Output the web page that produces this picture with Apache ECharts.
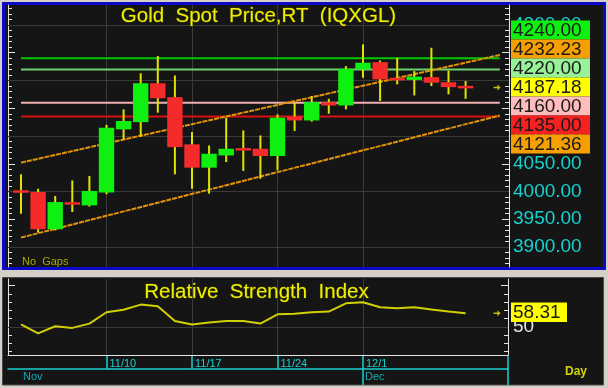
<!DOCTYPE html>
<html><head><meta charset="utf-8">
<script src="https://cdn.jsdelivr.net/npm/echarts@6/dist/echarts.min.js"></script>
<style>html,body{margin:0;padding:0;background:#d4d0c8}#c{width:608px;height:388px}</style>
</head><body><div id="c"></div>
<script>
// ---------- data ----------
const days = ['11/3','11/4','11/5','11/6','11/7','11/10','11/11','11/12','11/13','11/14','11/17','11/18','11/19','11/20','11/21','11/24','11/25','11/26','11/27','11/28','12/1','12/2','12/3','12/4','12/5','12/8','12/9'];
const openP  = [4002,3999,3932,3980,3975,3998,4112,4125,4195,4170,4085,4043,4065,4077,4077,4064,4135,4128,4161,4155,4220,4233,4204,4201,4206,4197,4189];
const closeP = [3998,3932,3981,3977,4001,4115,4127,4195,4168,4080,4043,4068,4077,4075,4064,4133,4128,4161,4155,4221,4232,4202,4201,4207,4196,4188,4187.18];
const lowP   = [3960,3926,3930,3963,3973,3995,4094,4099,4142,4031,4005,3996,4053,4037,4023,4038,4109,4126,4140,4148,4205,4163,4193,4173,4190,4175,4167];
const highP  = [4031,4005,3992,4020,4028,4120,4148,4213,4244,4209,4107,4083,4133,4110,4101,4139,4160,4172,4167,4226,4265,4236,4241,4217,4259,4218,4199];
const rsi    = [51.6,46.1,50.4,49.4,52.0,58.9,60.4,63.5,62.5,53.6,51.4,52.6,53.6,53.6,52.0,57.6,58.0,58.9,59.3,64.3,64.9,61.9,61.3,61.9,60.5,59.3,58.31];

const levelValues = [4240, 4220, 4160, 4135];
const upperTrend = [[0, 4052], [28, 4246]];
const lowerTrend = [[0, 3917], [28, 4137]];
const lastPrice = 4187.18;
const lastRsi = 58.31;
const tagValues = [4240.00, 4232.23, 4220.00, 4187.18, 4160.00, 4135.00, 4121.36];
const priceLabels = [3900, 3950, 4000, 4050, 4100, 4150, 4200, 4250, 4300];
const priceGrid = [3900, 4000, 4100, 4200, 4300];
const rsiLabels = [50];
const weekIdx = [5, 10, 15, 20];
const weekLabels = ['11/10', '11/17', '11/24', '12/1'];
const monthIdx = [0, 20];
const monthLabels = ['Nov', 'Dec'];

// ---------- styles ----------
const FONT = 'Arial, "Liberation Sans", sans-serif';
const levelColors = ['#00c800', '#70d070', '#f0b0b0', '#d81010'];
const tagColors = ['#10f010', '#f5a000', '#98f098', '#ffff00', '#ffbcbc', '#f52020', '#f5a000'];
const PANEL = '#151515', GRIDC = '#3a3a3a', WHITE = '#e4e4e4', CYAN = '#18d0d0';
const PMIN = 3864, PMAX = 4336, XMIN = -0.76, XMAX_MAIN = 28.538, XMAX_LOW = 28.48;
const RMIN = 33, RMAX = 79;

const minorPrice = []; for (let v = 3870; v <= 4330; v += 10) minorPrice.push(v);
const minorRsi = []; for (let v = 35; v <= 75; v += 5) minorRsi.push(v);
const majorRsi = [50, 75];

function yAx(gridIndex, position, min, max, extra) {
  return Object.assign({
    type: 'value', gridIndex, position, min, max,
    splitLine: { show: false },
    axisLine: { show: false, onZero: false },
    axisTick: { show: false },
    axisLabel: { show: false }
  }, extra);
}
const ticks = (vals, len) => ({ show: true, inside: true, length: len, customValues: vals, lineStyle: { color: WHITE, width: 1 } });
const wline = { show: true, onZero: false, lineStyle: { color: WHITE, width: 1 } };

const candleData = days.map((d, i) => [i, openP[i], closeP[i], lowP[i], highP[i]]);

const chart = echarts.init(document.getElementById('c'), null, { renderer: 'canvas', width: 608, height: 388 });

const tagGraphics = [];
tagValues.forEach((v, k) => {
  const top = 20.5 + 19 * k;
  tagGraphics.push({ type: 'rect', z: 100, shape: { x: 511, y: top, width: 79, height: 19 }, style: { fill: tagColors[k] } });
  tagGraphics.push({ type: 'text', z: 101, x: 513, y: top + 10, style: { text: v.toFixed(2), font: '19px ' + FONT, fill: '#1a1a1a', textVerticalAlign: 'middle' } });
});

const option = {
  animation: false,
  backgroundColor: '#d4d0c8',
  grid: [
    { left: 8, right: 99, top: 5, height: 262 },
    { left: 8, right: 100, top: 279, height: 76 },
    { left: 8, right: 100, top: 356, height: 13 }
  ],
  xAxis: [
    { type: 'value', gridIndex: 0, min: XMIN, max: XMAX_MAIN, show: false },
    { type: 'value', gridIndex: 1, min: XMIN, max: XMAX_LOW, splitLine: { show: false }, axisLine: wline, axisTick: { show: false }, axisLabel: { show: false } },
    { type: 'value', gridIndex: 2, position: 'bottom', min: XMIN, max: XMAX_LOW, splitLine: { show: false },
      axisLine: { show: true, onZero: false, lineStyle: { color: CYAN, width: 1.5 } },
      axisTick: { show: true, inside: true, length: 13, customValues: weekIdx, lineStyle: { color: CYAN, width: 1.5 } },
      axisLabel: { show: true, inside: true, customValues: weekIdx, margin: 5, verticalAlign: 'middle', align: 'left', padding: [0, 0, 0, 3],
        color: CYAN, fontSize: 11, fontFamily: FONT, formatter: v => weekLabels[weekIdx.indexOf(Math.round(v))] || '' } },
    { type: 'value', gridIndex: 2, position: 'bottom', offset: 0, min: XMIN, max: XMAX_LOW, splitLine: { show: false },
      axisLine: { show: false, onZero: false },
      axisTick: { show: true, inside: false, length: 16, customValues: [monthIdx[1]], lineStyle: { color: CYAN, width: 1.5 } },
      axisLabel: { show: true, customValues: monthIdx, margin: 8, verticalAlign: 'middle', align: 'left', padding: [0, 0, 0, 2],
        color: '#14aab4', fontSize: 11, fontFamily: FONT, formatter: v => monthLabels[monthIdx.indexOf(Math.round(v))] || '' } }
  ],
  yAxis: [
    yAx(0, 'left', PMIN, PMAX, { axisLine: wline, axisTick: ticks(minorPrice, 4) }),
    yAx(0, 'left', PMIN, PMAX, { axisTick: ticks(priceLabels, 7) }),
    yAx(0, 'right', PMIN, PMAX, { axisLine: wline, axisTick: ticks(minorPrice, 4),
      axisLabel: { show: true, customValues: priceLabels, margin: 4, color: CYAN, fontSize: 19, fontFamily: FONT, formatter: v => v.toFixed(2) } }),
    yAx(0, 'right', PMIN, PMAX, { axisTick: ticks(priceLabels, 7) }),
    yAx(1, 'left', RMIN, RMAX, { axisLine: wline, axisTick: ticks(minorRsi, 4) }),
    yAx(1, 'left', RMIN, RMAX, { axisTick: ticks(majorRsi, 7) }),
    yAx(1, 'right', RMIN, RMAX, { axisLine: wline, axisTick: ticks(minorRsi, 4),
      axisLabel: { show: true, customValues: rsiLabels, margin: 5, color: WHITE, fontSize: 19, fontFamily: FONT, formatter: v => String(Math.round(v)) } }),
    yAx(1, 'right', RMIN, RMAX, { axisTick: ticks(majorRsi, 7) }),
    yAx(2, 'right', 0, 1, { axisLine: { show: true, onZero: false, lineStyle: { color: CYAN, width: 1.5 } } })
  ],
  series: [
    { type: 'line', xAxisIndex: 0, yAxisIndex: 0, data: [], z: 1, silent: true,
      markLine: { z: 1, silent: true, symbol: 'none', label: { show: false }, lineStyle: { color: GRIDC, width: 1, type: 'solid' },
        data: priceGrid.map(v => ({ yAxis: v })).concat(weekIdx.map(v => ({ xAxis: v }))) } },
    { type: 'line', xAxisIndex: 1, yAxisIndex: 4, data: [], z: 1, silent: true,
      markLine: { z: 1, silent: true, symbol: 'none', label: { show: false }, lineStyle: { color: GRIDC, width: 1, type: 'solid' },
        data: [{ yAxis: 50 }].concat(weekIdx.map(v => ({ xAxis: v }))) } },
    ...levelValues.map((v, k) => ({ type: 'line', xAxisIndex: 0, yAxisIndex: 0, z: 2, symbol: 'none', silent: true,
      data: [[0, v], [28, v]], lineStyle: { color: levelColors[k], width: 2 } })),
    { type: 'line', xAxisIndex: 0, yAxisIndex: 0, z: 3, symbol: 'none', silent: true, data: upperTrend, lineStyle: { color: '#e3930a', width: 2, type: [5, 1] } },
    { type: 'line', xAxisIndex: 0, yAxisIndex: 0, z: 3, symbol: 'none', silent: true, data: lowerTrend, lineStyle: { color: '#e3930a', width: 2, type: [5, 1] } },
    { type: 'custom', xAxisIndex: 0, yAxisIndex: 0, z: 4, clip: true, data: candleData,
      encode: { x: 0, y: [1, 2, 3, 4] },
      renderItem: function (params, api) {
        const x = api.value(0), o = api.value(1), c = api.value(2), l = api.value(3), h = api.value(4);
        const top = api.coord([x, Math.max(o, c)]);
        const bot = api.coord([x, Math.min(o, c)]);
        const hi = api.coord([x, h]);
        const lo = api.coord([x, l]);
        const w = api.size([1, 0])[0] * 0.9;
        let y0 = top[1], hh = bot[1] - top[1];
        if (hh < 2.5) { y0 = (top[1] + bot[1]) / 2 - 1.25; hh = 2.5; }
        return { type: 'group', children: [
          { type: 'line', shape: { x1: hi[0], y1: hi[1], x2: lo[0], y2: lo[1] }, style: { stroke: '#e2e200', lineWidth: 2 } },
          { type: 'rect', shape: { x: top[0] - w / 2, y: y0, width: w, height: hh }, style: { fill: c >= o ? '#10f010' : '#f52a2a' } }
        ] };
      } },
    { type: 'scatter', xAxisIndex: 0, yAxisIndex: 0, z: 5, silent: true, data: [[27.84, lastPrice]],
      symbol: 'path://M0,3 L5,3 L5,0 L9,4 L5,8 L5,5 L0,5 Z', symbolSize: [7, 6], itemStyle: { color: '#e8e800' } },
    { type: 'line', xAxisIndex: 1, yAxisIndex: 4, z: 3, symbol: 'none', silent: true,
      data: rsi.map((v, i) => [i, v]), lineStyle: { color: '#d0d000', width: 2 } },
    { type: 'scatter', xAxisIndex: 1, yAxisIndex: 4, z: 5, silent: true, data: [[27.84, lastRsi]],
      symbol: 'path://M0,3 L5,3 L5,0 L9,4 L5,8 L5,5 L0,5 Z', symbolSize: [7, 6], itemStyle: { color: '#e8e800' } }
  ],
  graphic: [
    { type: 'rect', z: -10, shape: { x: 3.5, y: 3.5, width: 601, height: 265 }, style: { fill: PANEL, stroke: '#0a0ac8', lineWidth: 3 } },
    { type: 'rect', z: -10, shape: { x: 2.5, y: 277.5, width: 601, height: 107.5 }, style: { fill: PANEL, stroke: '#4a4a4a', lineWidth: 1 } },
    { type: 'line', z: 10, shape: { x1: 508, y1: 369, x2: 508, y2: 385 }, style: { stroke: CYAN, lineWidth: 1.5 } },
    { type: 'text', z: 50, x: 258.5, y: 16, style: { text: 'Gold  Spot  Price,RT  (IQXGL)', font: '20.5px ' + FONT, fill: '#eeee00',
      textAlign: 'center', textVerticalAlign: 'middle', stroke: 'rgba(70,70,0,0.9)', lineWidth: 1 } },
    { type: 'text', z: 50, x: 256.5, y: 292.5, style: { text: 'Relative  Strength  Index', font: '20.5px ' + FONT, fill: '#eeee00',
      textAlign: 'center', textVerticalAlign: 'middle', stroke: 'rgba(70,70,0,0.9)', lineWidth: 1 } },
    { type: 'text', z: 50, x: 22, y: 262, style: { text: 'No  Gaps', font: '11px ' + FONT, fill: '#a8a800', textVerticalAlign: 'middle' } },
    { type: 'text', z: 50, x: 565, y: 372, style: { text: 'Day', font: 'bold 12px ' + FONT, fill: '#d4d400', textVerticalAlign: 'middle' } },
    ...tagGraphics,
    { type: 'rect', z: 100, shape: { x: 511, y: 302.5, width: 56, height: 19.5 }, style: { fill: '#ffff00' } },
    { type: 'text', z: 101, x: 513, y: 313, style: { text: lastRsi.toFixed(2), font: '19px ' + FONT, fill: '#1a1a1a', textVerticalAlign: 'middle' } }
  ]
};
chart.setOption(option);
</script>
</body></html>
